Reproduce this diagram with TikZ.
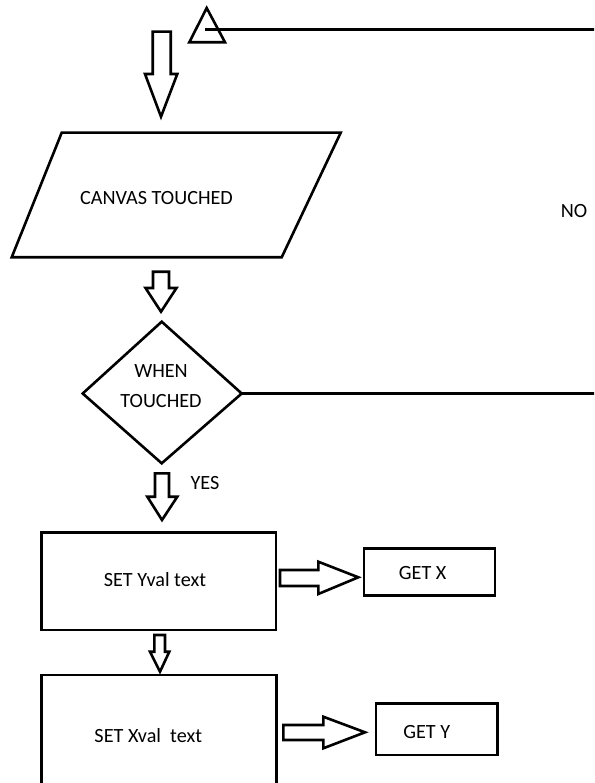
\documentclass[tikz,border=0pt]{standalone}
\usepackage{fontspec}
\setmainfont{Carlito}
\begin{document}
\begin{tikzpicture}[x=1pt,y=-1pt,
  outline/.style={draw=black,line width=2.6pt,line join=miter},
  label/.style={font=\fontsize{20.2}{30}\selectfont,text=black,inner sep=0pt},
  boxnode/.style={outline,rectangle,minimum width=#1,inner sep=0pt},
  blockarrow/.style={draw=black,line width=2.6pt,fill=white,line join=miter}]
\useasboundingbox (0,0) rectangle (594,783);
\clip (0,0) rectangle (594,783);

% return marker at the top
\draw[outline] (206.7,8) -- (225,42.3) -- (189.3,42.3) -- cycle;
\coordinate (tri) at (205,29.3);
\coordinate (topR) at (600,29.3);

% arrow into the input step
\draw[blockarrow] (152.7,31.7) -- (170.7,31.7) -- (170.7,74) -- (177.3,74)
  -- (161,116.7) -- (145,74) -- (152.7,74) -- cycle;

% input: canvas touched
\draw[outline] (61.7,132.7) -- (340.7,132.7) -- (281.7,257.3) -- (11.7,257.3) -- cycle;
\node[label] (canvas) at (156.5,198) {CANVAS TOUCHED};

\draw[blockarrow] (153,271.7) -- (169,271.7) -- (169,288) -- (176.5,288)
  -- (161,311.7) -- (145.5,288) -- (153,288) -- cycle;

% decision
\draw[outline] (161.7,321.7) -- (241.7,393.5) -- (161.7,463.3) -- (82.7,393.5) -- cycle;
\coordinate (dE) at (241.7,393.5);
\coordinate (dR) at (600,393.5);
\node[label,align=center] (when) at (161,386) {WHEN\\TOUCHED};

% loop back when not touched
\draw[outline] (dE) -- (dR);
\draw[outline] (topR) -- (tri);
\node[label] (no) at (574,211) {NO};

% yes branch
\draw[blockarrow] (155,473.3) -- (169,473.3) -- (169,496.7) -- (177.3,496.7)
  -- (162,520) -- (147.3,496.7) -- (155,496.7) -- cycle;
\node[label] (yes) at (205,483.3) {YES};

% set Yval
\node[boxnode=234.3,minimum height=97.7] (sety) at (158.9,581.2) {};
\node[label] at (155,580) {SET Yval text};
\draw[blockarrow] (280,570) -- (318.3,570) -- (318.3,561.7) -- (358.3,577.3)
  -- (318.3,594) -- (318.3,586) -- (280,586) -- cycle;
\node[boxnode=131,minimum height=47.4] (getx) at (429.5,572) {};
\node[label] at (422.7,573.3) {GET X};

\draw[blockarrow] (154.3,635) -- (165,635) -- (165,651.7) -- (169.3,651.7)
  -- (160,671.7) -- (150,651.7) -- (154.3,651.7) -- cycle;

% set Xval
\node[boxnode=235,minimum height=122] (setx) at (159.2,736) {};
\node[label] at (148.3,736) {SET Xval\ \ text};
\draw[blockarrow] (283.3,725) -- (323.3,725) -- (323.3,716.7) -- (365,732.3)
  -- (323.3,748.3) -- (323.3,740) -- (283.3,740) -- cycle;
\node[boxnode=121.3,minimum height=51.7] (gety) at (436.7,729.2) {};
\node[label] at (426.7,731.7) {GET Y};
\end{tikzpicture}
\end{document}
